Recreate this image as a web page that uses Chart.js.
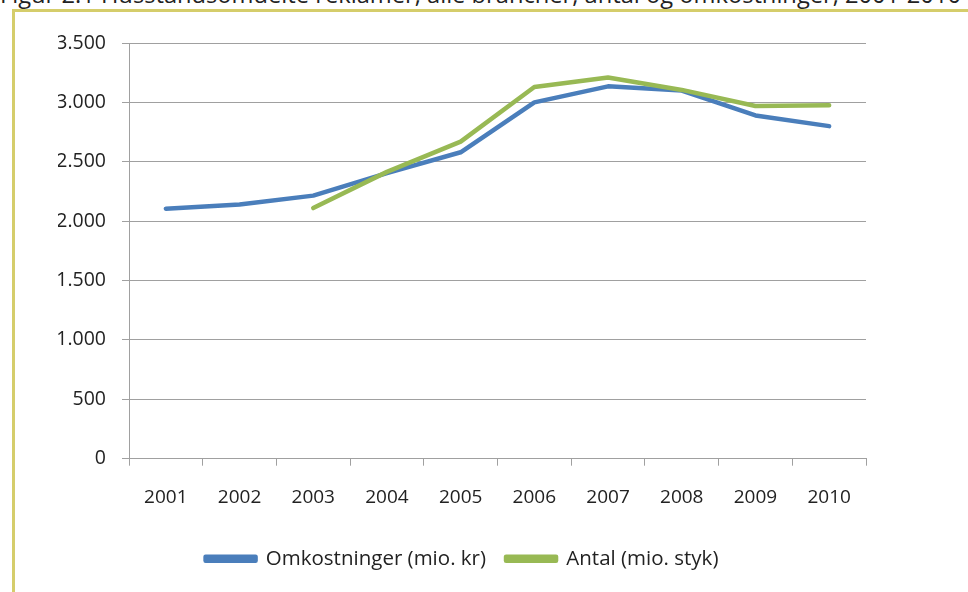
<!DOCTYPE html>
<html><head><meta charset="utf-8">
<script src="https://cdn.jsdelivr.net/npm/chart.js@4"></script>
<style>
html,body{margin:0;padding:0;background:#fff;overflow:hidden;}
#wrap{position:relative;width:968px;height:592px;overflow:hidden;}
#title{position:absolute;left:0;top:-22px;font-family:"Open Sans",sans-serif;font-size:23.7px;color:#222;white-space:nowrap;}
#frame{position:absolute;left:12px;top:9px;width:970px;height:600px;border-top:3px solid #d5cd6b;border-left:3px solid #d5cd6b;box-sizing:border-box;}
#c{position:absolute;left:0;top:0;}
</style></head>
<body><div id="wrap">
<div id="title">Figur 2.1 Husstandsomdelte reklamer, alle brancher, antal og omkostninger, 2001-2010</div>
<div id="frame"></div>
<canvas id="c" width="968" height="592"></canvas>
</div>
<script>
const years = ["2001","2002","2003","2004","2005","2006","2007","2008","2009","2010"];
const omkostninger = [2105, 2140, 2215, 2405, 2580, 3000, 3135, 3100, 2890, 2800];
const antal = [null, null, 2110, 2415, 2670, 3130, 3210, 3105, 2970, 2975];
const seriesNames = ["Omkostninger (mio. kr)", "Antal (mio. styk)"];
const yTicks = [0, 500, 1000, 1500, 2000, 2500, 3000, 3500];

const fmt = v => v.toLocaleString('da-DK');
const gridCol = '#a0a0a0';
const fam = '"Open Sans", sans-serif';
new Chart(document.getElementById('c'), {
  type: 'line',
  data: {
    labels: years,
    datasets: [
      {label: seriesNames[0], data: omkostninger, borderColor:'#4a7ebb', backgroundColor:'#4a7ebb', borderWidth:4.5, pointRadius:0, tension:0, order:1, borderCapStyle:'round', borderJoinStyle:'round'},
      {label: seriesNames[1], data: antal, borderColor:'#98b954', backgroundColor:'#98b954', borderWidth:4.5, pointRadius:0, tension:0, order:0, spanGaps:false, borderCapStyle:'round', borderJoinStyle:'round'}
    ]
  },
  options: {
    responsive:false, animation:false, devicePixelRatio:1,
    layout:{padding:{left:58, right:102, top:43, bottom:13}},
    plugins:{
      tooltip:{enabled:false},
      legend:{position:'bottom', labels:{boxWidth:50, boxHeight:4, padding:20, color:'#222', font:{family:fam, size:20.5}, sort:(a,b)=>a.datasetIndex-b.datasetIndex}}
    },
    scales:{
      x:{
        offset:true,
        grid:{display:true, drawOnChartArea:false, drawTicks:true, tickLength:7, color:gridCol, offset:true},
        border:{display:true, color:gridCol},
        ticks:{color:'#222', padding:20, font:{family:fam, size:19}, maxRotation:0}
      },
      y:{
        min:0, max:3500,
        afterBuildTicks: s => { s.ticks = yTicks.map(v=>({value:v})); },
        afterFit: s => { s.width = 71; },
        grid:{color:gridCol, tickLength:7, drawTicks:true},
        border:{display:true, color:gridCol},
        ticks:{color:'#222', padding:16, font:{family:fam, size:19.5}, callback: v => fmt(v)}
      }
    }
  }
});
</script>
</body></html>
